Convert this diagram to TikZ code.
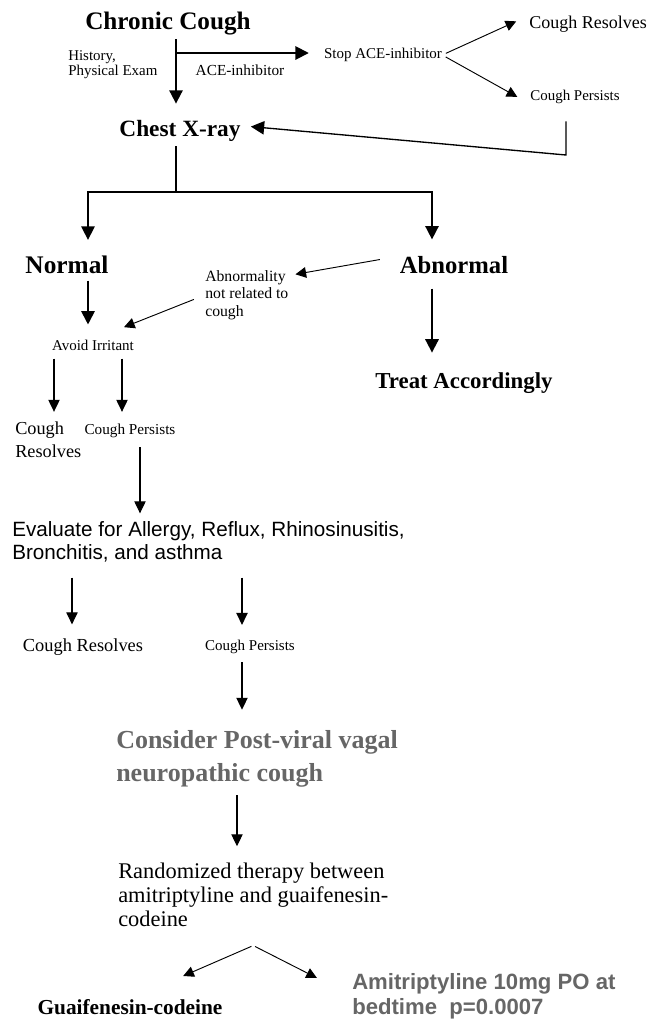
\documentclass[tikz,border=0pt]{standalone}
\usepackage{fontspec}
\setmainfont{Liberation Serif}
\setsansfont{Liberation Sans}
\usetikzlibrary{arrows.meta,positioning}
\definecolor{viral}{RGB}{102,102,102}
\tikzset{
  hd/.style 2 args={font=\bfseries\fontsize{#1}{#2}\selectfont, align=left},
  tx/.style 2 args={font=\fontsize{#1}{#2}\selectfont, align=left},
  sf/.style 2 args={font=\sffamily\fontsize{#1}{#2}\selectfont, align=left},
  arr/.style={-{Triangle[width=10pt,length=10pt]}, line width=1.4pt},
  arrb/.style={-{Triangle[width=8.5pt,length=9pt]}, line width=0.8pt},
  dia/.style={-{Triangle[width=8pt,length=8pt]}, line width=0.7pt},
}
\begin{document}
\begin{tikzpicture}[x=0.75pt,y=-0.75pt,every node/.style={inner sep=0pt}]
\useasboundingbox (0,0) rectangle (650,1022);
\node[hd={18.9pt}{22pt}] (cc) at (168,24) {Chronic Cough};
\node[tx={11.2pt}{11.25pt}, anchor=west] (hist) at (68,64.5) {History,\\Physical Exam};
\node[tx={11.5pt}{13pt}] (ace) at (240,70) {ACE-inhibitor};
\node[tx={11.25pt}{13pt}] (stop) at (383,55) {Stop ACE-inhibitor};
\node[tx={13.5pt}{16pt}] (res1) at (588,24) {Cough Resolves};
\node[tx={11.2pt}{13pt}] (per1) at (575,97) {Cough Persists};
\node[hd={17.5pt}{20pt}] (cx) at (180,131) {Chest X-ray};
\coordinate (j1) at (176,53);
\draw[arr, shorten <=2.7pt, shorten >=12.4pt] (cc.south -| j1) -- (cx.north -| j1);
\draw[arr, shorten >=11.25pt] (j1) -- (stop.west |- j1);
\draw[dia, shorten <=3pt, shorten >=10.5pt] (stop.east) -- (res1.north west);
\draw[dia, shorten <=3pt, shorten >=11pt] (stop.east) -- (per1.south west);
\coordinate (fb) at (566,155);
\draw[arr, line width=1pt, shorten <=13pt, shorten >=7.5pt] (per1.south -| fb) -- (fb) -- (cx.5);
% split
\node[hd={19pt}{22pt}] (nor) at (67,265) {Normal};
\node[hd={18.5pt}{22pt}] (abn) at (454,265) {Abnormal};
\coordinate (j2) at (176,192);
\coordinate (bl) at (88,192);
\coordinate (br) at (432,192);
\draw[line width=1.2pt, shorten <=3.4pt] (cx.south -| j2) -- (j2);
\draw[arr, line width=1.2pt, shorten >=12pt] (j2) -- (bl) -- (bl |- nor.north);
\draw[arr, line width=1.2pt, shorten >=12.5pt] (j2) -- (br) -- (br |- abn.north);
\node[tx={11.8pt}{13.1pt}, anchor=west] (abr) at (205,295) {Abnormality\\not related to\\cough};
\node[tx={11.25pt}{13pt}] (avo) at (93,345) {Avoid Irritant};
\node[hd={17.1pt}{20pt}] (tre) at (464,383) {Treat Accordingly};
\draw[dia, shorten <=15pt, shorten >=5.25pt] (abn.north west) -- (abr.25);
\draw[dia, shorten <=9pt, shorten >=25pt] (abr.west) -- (avo.north);
\draw[arr, shorten <=4.8pt, shorten >=11.25pt] (nor.south -| bl) -- (avo.north -| bl);
\draw[arr, shorten <=11pt, shorten >=14.8pt] (abn.south -| br) -- (tre.north -| br);
% lower part
\node[tx={13.7pt}{17.25pt}, anchor=west] (res2) at (15,440) {Cough\\Resolves};
\node[tx={11.4pt}{13pt}] (per2) at (130,431) {Cough Persists};
\node[sf={15.5pt}{17.25pt}, anchor=west] (eva) at (12,541.5) {Evaluate for Allergy, Reflux, Rhinosinusitis,\\Bronchitis, and asthma};
\node[tx={13.8pt}{16pt}] (res3) at (83,647) {Cough Resolves};
\node[tx={11.25pt}{13pt}] (per3) at (250,647) {Cough Persists};
\node[hd={19.5pt}{24.75pt}, text=viral, anchor=west] (con) at (116,758.4) {Consider Post-viral vagal\\neuropathic cough};
\node[tx={16.8pt}{18pt}, anchor=west] (ran) at (118,894.4) {Randomized therapy between\\amitriptyline and guaifenesin-\\codeine};
\node[hd={16pt}{18pt}] (gua) at (130,1007) {Guaifenesin-codeine};
\node[sf={16.6pt}{18.75pt}, font=\sffamily\bfseries\fontsize{16.6pt}{18.75pt}\selectfont, text=viral, anchor=west] (ami) at (352,995.8) {Amitriptyline 10mg PO at\\bedtime\ \ p=0.0007};
\coordinate (xa) at (54,0);
\coordinate (xb) at (122,0);
\coordinate (xc) at (140,0);
\coordinate (xd) at (72,0);
\coordinate (xe) at (242,0);
\coordinate (xf) at (237,0);
\draw[arrb, shorten <=6pt, shorten >=7.5pt] (avo.south -| xa) -- (res2.north -| xa);
\draw[arrb, shorten <=6pt, shorten >=9pt] (avo.south -| xb) -- (per2.north -| xb);
\draw[arrb, shorten <=6.75pt, shorten >=5.7pt] (per2.south -| xc) -- (eva.north -| xc);
\draw[arrb, shorten <=11.6pt, shorten >=10.5pt] (eva.south -| xd) -- (res3.north -| xd);
\draw[arrb, shorten <=11.6pt, shorten >=11.25pt] (eva.south -| xe) -- (per3.north -| xe);
\draw[arrb, shorten <=6pt, shorten >=15pt] (per3.south -| xe) -- (con.north -| xe);
\draw[arrb, shorten <=6.2pt, shorten >=12pt] (con.south -| xf) -- (ran.north -| xf);
\coordinate[below=14.25pt of ran] (ap);
\draw[dia, shorten <=1.5pt, shorten >=43.5pt] (ap) -- (gua.north);
\draw[dia, shorten <=1.5pt, shorten >=29.5pt] (ap) -- (ami.west);
\end{tikzpicture}
\end{document}
